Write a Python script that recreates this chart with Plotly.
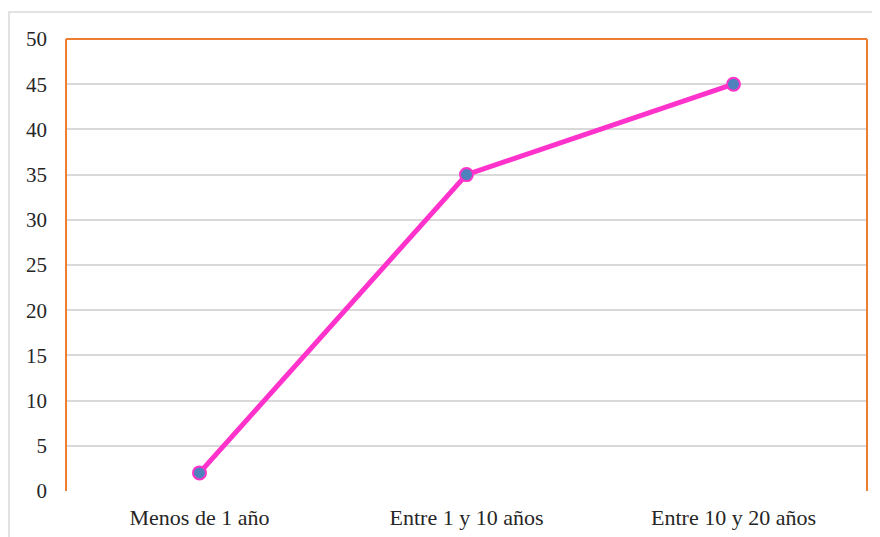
import plotly.graph_objects as go

categories = ["Menos de 1 año", "Entre 1 y 10 años", "Entre 10 y 20 años"]
values = [2, 35, 45]
y_ticks = [0, 5, 10, 15, 20, 25, 30, 35, 40, 45, 50]

# page has an 8px body margin; compensate so the picture matches the 880x537 frame
OFF = 8
W, H = 880 - OFF, 537 - OFF
L, R, T, B = 66 - OFF, 13, 39 - OFF, 46
pw, ph = W - L - R, H - T - B

fig = go.Figure()
fig.add_trace(go.Scatter(
    x=categories, y=values, mode="lines+markers",
    line=dict(color="#ff33cc", width=5),
    marker=dict(size=13, color="#4f81bd", line=dict(color="#ff33cc", width=2)),
    showlegend=False, cliponaxis=False,
))

orange = "#ed7d31"
shapes = [
    # outer chart border
    dict(type="rect", xref="paper", yref="paper",
         x0=(9 - OFF - L) / pw, x1=(W + 5 - L) / pw,
         y0=-(B + 20) / ph, y1=1 + (T - (12 - OFF)) / ph,
         line=dict(color="#d9d9d9", width=1.5), layer="below"),
    dict(type="line", xref="paper", yref="paper", x0=0, x1=0, y0=0, y1=1,
         line=dict(color=orange, width=2)),
    dict(type="line", xref="paper", yref="paper", x0=0, x1=1, y0=1, y1=1,
         line=dict(color=orange, width=2)),
    dict(type="line", xref="paper", yref="paper", x0=1, x1=1, y0=0, y1=1,
         line=dict(color=orange, width=2)),
]

fig.update_layout(
    width=W, height=H,
    margin=dict(l=L, r=R, t=T, b=B),
    paper_bgcolor="white", plot_bgcolor="white",
    font=dict(family="Liberation Serif, Times New Roman, serif", size=22, color="#262626"),
    shapes=shapes,
    xaxis=dict(type="category", range=[-0.5, 2.5], showgrid=False, zeroline=False,
               showline=False, ticks="", ticklabelstandoff=11, automargin=False,
               tickfont=dict(size=22)),
    yaxis=dict(range=[0, 50], tickvals=y_ticks, showgrid=True, gridcolor="#d9d9d9",
               gridwidth=1.5, zeroline=False, showline=False, ticks="", automargin=False,
               ticklabelstandoff=18, tickfont=dict(size=21)),
)

fig.write_html("out.html")
